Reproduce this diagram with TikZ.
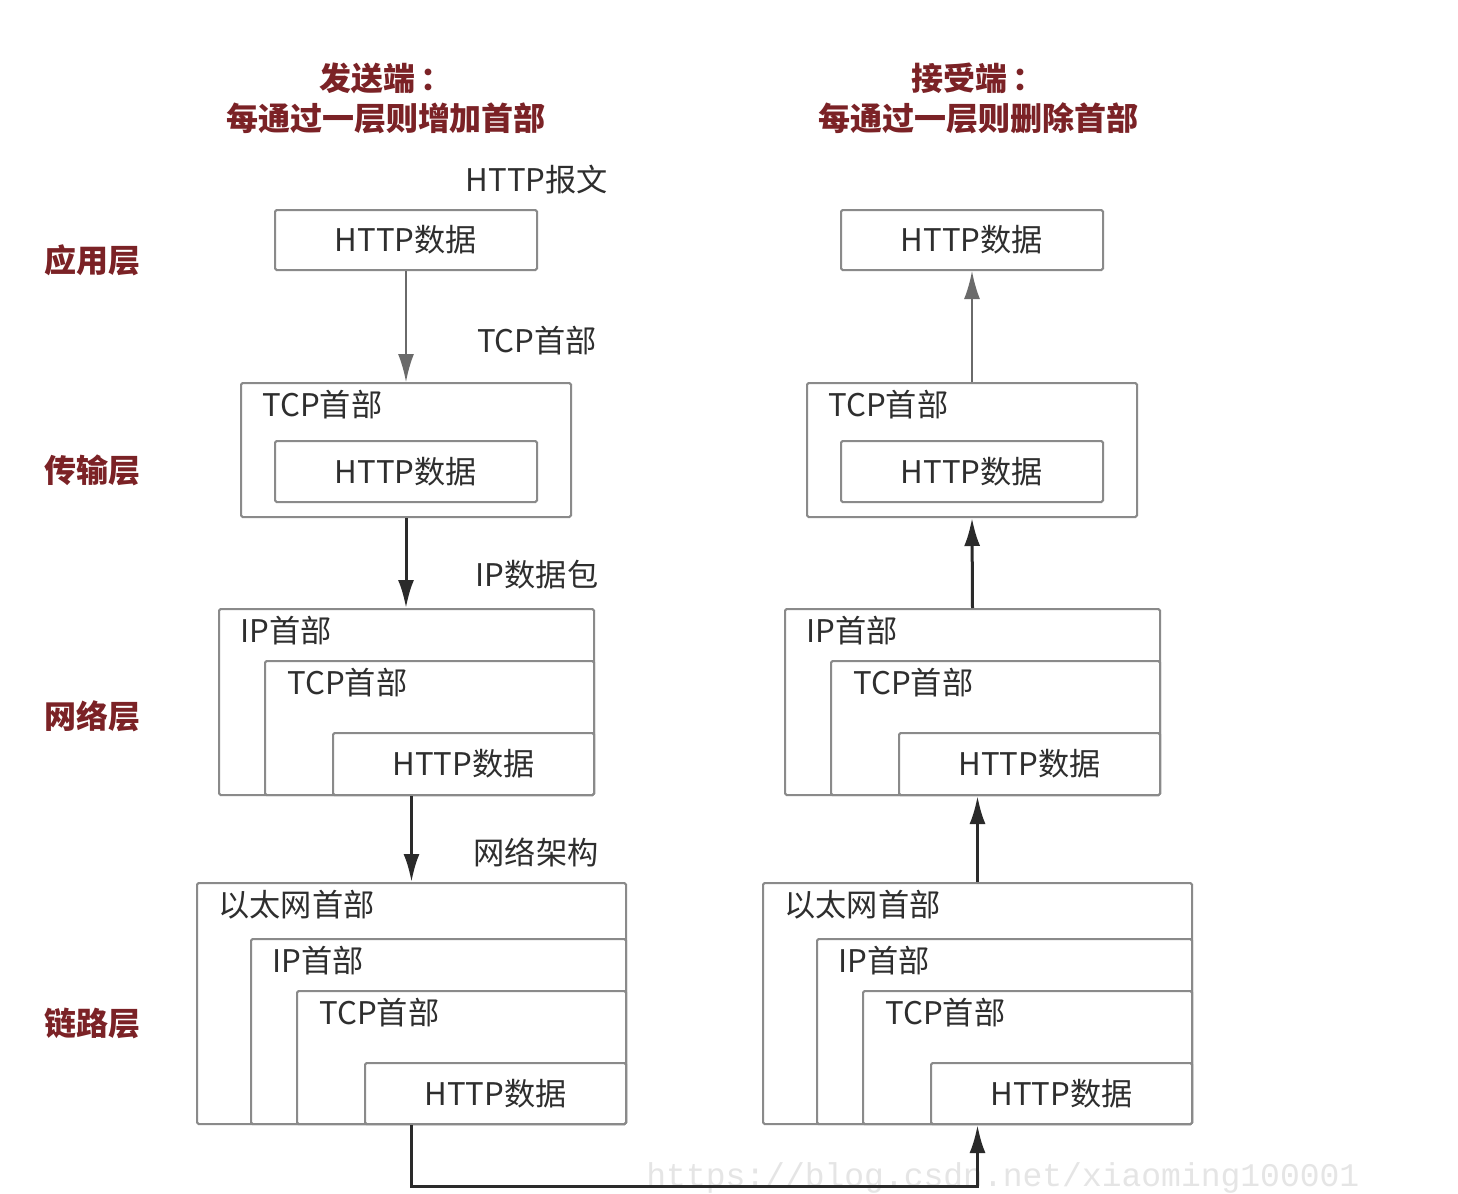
\documentclass[tikz,border=0pt]{standalone}
\usepackage{fontspec}
\setmainfont{Noto Sans CJK SC}
\newfontfamily\wmfont{Liberation Mono}
\usetikzlibrary{fit,arrows.meta}
\definecolor{titlered}{HTML}{7B2226}
\definecolor{boxgray}{HTML}{8A8A8A}
\definecolor{txt}{HTML}{2E2E2E}
\definecolor{arrowc}{HTML}{2A2A2A}
\definecolor{arrowg}{HTML}{6A6A6A}
\newcommand\colstack[1]{%
  \node[box, fit={(275,210) (537,270)}] (app#1) {};
  \node[boxtxt] (appTxt#1) at (app#1.center) {HTTP数据};
  \node[box, fit={(241,383) (571,517)}] (tcp#1) {};
  \node[box, fit={(275,441) (537,502)}] (tcpHttp#1) {};
  \node[boxtxt] (tcpHttpTxt#1) at (tcpHttp#1.center) {HTTP数据};
  \node[hdr] (tcpLbl#1) at (262,405) {TCP首部};
  \node[box, fit={(219,609) (594,795)}] (ip#1) {};
  \node[box, fit={(265,661) (594,795)}] (ipTcp#1) {};
  \node[box, fit={(333,733) (594,795)}] (ipHttp#1) {};
  \node[boxtxt] (ipHttpTxt#1) at (ipHttp#1.center) {HTTP数据};
  \node[hdr] (ipLbl#1) at (240,631) {IP首部};
  \node[hdr] (ipTcpLbl#1) at (287,683) {TCP首部};
  \node[box, fit={(197,883) (626,1124)}] (eth#1) {};
  \node[box, fit={(251,939) (626,1124)}] (ethIp#1) {};
  \node[box, fit={(297,991) (626,1124)}] (ethTcp#1) {};
  \node[box, fit={(365,1063) (626,1124)}] (ethHttp#1) {};
  \node[boxtxt] (ethHttpTxt#1) at (ethHttp#1.center) {HTTP数据};
  \node[hdr] (ethLbl#1) at (218,905) {以太网首部};
  \node[hdr] (ethIpLbl#1) at (272,961) {IP首部};
  \node[hdr] (ethTcpLbl#1) at (319,1013) {TCP首部};
}
\begin{document}
\begin{tikzpicture}[x=0.5pt,y=-0.5pt,
  box/.style={draw=boxgray, line width=1pt, inner sep=0pt, rounded corners=0.8pt, fill=white},
  boxtxt/.style={font=\fontsize{15.6}{18}\selectfont, text=txt, inner sep=0pt},
  hdr/.style={boxtxt, anchor=west},
  side/.style={boxtxt},
  title/.style={font=\fontsize{16}{20}\selectfont\bfseries, text=titlered, align=center, inner sep=0pt},
  layer/.style={font=\fontsize{16}{20}\selectfont\bfseries, text=titlered, anchor=west, inner sep=0pt},
  arr/.style={draw=arrowc, line width=1.5pt, -{Latex[length=14pt,width=8pt]}},
  arrg/.style={draw=arrowg, line width=1pt, -{Latex[length=14pt,width=8pt]}},
]
\useasboundingbox[fill=white] (0,0) rectangle (1458,1194);

% watermark
\node[anchor=north west, inner sep=0pt, font=\wmfont\fontsize{16.5}{20}\selectfont, text=black!10] (wm) at (646,1162) {https://blog.csdn.net/xiaoming100001};

% titles
\node[title] (tL) at (386,98) {发送端\,：\\每通过一层则增加首部};
\node[title] (tR) at (978,98) {接受端\,：\\每通过一层则删除首部};

% layer names
\node[layer] (l1) at (44,260) {应用层};
\node[layer] (l2) at (44,470) {传输层};
\node[layer] (l3) at (44,716) {网络层};
\node[layer] (l4) at (44,1023) {链路层};

% stacks
\colstack{L}
\begin{scope}[xshift=283pt]
\colstack{R}
\end{scope}

% side labels
\node[side] (s1) at (537,180) {HTTP报文};
\node[side] (s2) at (537,341) {TCP首部};
\node[side] (s3) at (537,575) {IP数据包};
\node[side] (s4) at (536,852) {网络架构};

% sender arrows
\draw[arrg] (appL.south) -- (tcpL.north);
\draw[arr] (tcpL.south) -- (ipL.north -| tcpL.south);
\draw[arr] (ethL.north |- ipL.south) -- (ethL.north);
\draw[arr] (ethL.south) -- ++(0,61) -| (ethR.south);

% receiver arrows
\draw[arr] (ethR.north) -- (ethR.north |- ipR.south);
\draw[arr] (ipR.north) -- (tcpR.south);
\draw[arrg] (tcpR.north) -- (appR.south);
\end{tikzpicture}
\end{document}
